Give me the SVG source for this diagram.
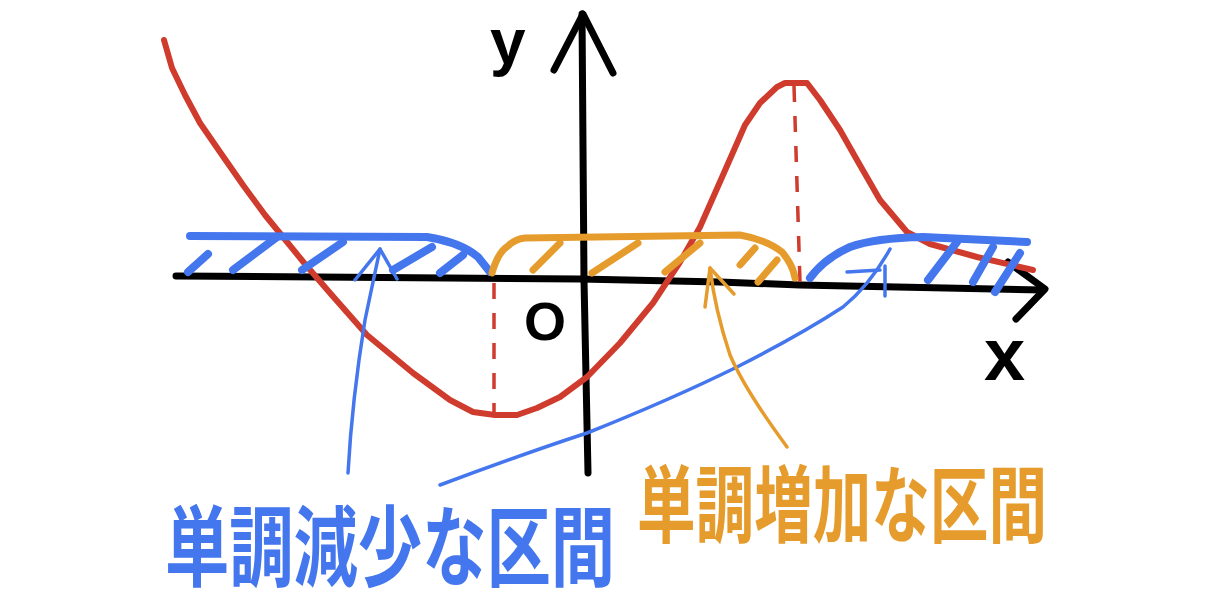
<svg xmlns="http://www.w3.org/2000/svg" width="1214" height="607" viewBox="0 0 1214 607">
<style>
  .ax{fill:none;stroke:#000;stroke-width:7;stroke-linecap:round;stroke-linejoin:round}
  .red{fill:none;stroke:#cf3b2c;stroke-width:6;stroke-linecap:round;stroke-linejoin:round}
  .dash{fill:none;stroke:#cf3b2c;stroke-width:3.5;stroke-dasharray:16 14}
  .bl{fill:none;stroke:#4476ee;stroke-width:8;stroke-linecap:round;stroke-linejoin:round}
  .blt{fill:none;stroke:#4476ee;stroke-width:3.5;stroke-linecap:round;stroke-linejoin:round}
  .or{fill:none;stroke:#e69c2c;stroke-width:7;stroke-linecap:round;stroke-linejoin:round}
  .ort{fill:none;stroke:#e69c2c;stroke-width:3.5;stroke-linecap:round;stroke-linejoin:round}
  .lab{font-family:"Liberation Sans",sans-serif;font-weight:bold;fill:#000}
  .jp{font-family:"Noto Sans CJK JP",sans-serif;font-weight:bold}
</style>
<rect width="1214" height="607" fill="#fff"/>

<g id="axes">
  <path class="ax" d="M176,276 L580,279 L720,282 L800,285 L1043,290"/>
  <path class="ax" d="M1008,262 L1045,289 L1016,319"/>
  <path class="ax" d="M588,473 L584,280 L582,14"/>
  <path class="ax" d="M554,70 L583,14 L613,73"/>
</g>

<g id="curve">
  <path class="red" d="M164,40 L172,68 L185,95 L200,123 L220,152 L243,185 L265,215 L283,237 L305,264 L330,293 L367,335 L413,373 L450,400 L473,412 L495,415 L517,415 L537,408 L560,397 L587,377 L620,343 L653,303 L680,262 L700,227 L723,175 L745,125 L760,103 L777,87 L785,83 L807,83 L820,100 L840,130 L857,160 L880,200 L907,232 L930,244 L977,257 L1033,270"/>
  <path class="dash" d="M494,283 L494,414"/>
  <path class="dash" d="M794,86 L800,282"/>
</g>

<g id="decreasing-left">
  <path class="bl" d="M190,236 L427,237 Q460,242 478,257 L490,272"/>
  <path class="bl" d="M188,272 L208,254 M233,270 L277,237 M302,270 L343,242 M393,270 L432,247 M440,273 L463,255"/>
</g>

<g id="increasing">
  <path class="or" d="M492,273 Q498,252 508,246 Q515,239 525,238 L740,235 Q767,240 782,252 Q793,265 795,278"/>
  <path class="or" d="M533,270 L560,243 M592,273 L638,243 M665,272 L700,243 M740,265 L755,248 M758,282 L777,260"/>
</g>

<g id="decreasing-right">
  <path class="bl" d="M810,278 Q825,258 850,247 Q875,238 923,237 L1027,242"/>
  <path class="bl" d="M928,280 L957,242 M973,282 L993,247 M995,292 L1020,253"/>
</g>

<g id="connectors">
  <path class="blt" d="M348,473 Q352,400 365,320 L380,249"/>
  <path class="blt" d="M355,280 L380,249 L397,279"/>
  <path class="blt" d="M440,485 Q520,455 587,433 Q670,400 737,367 Q800,335 843,307 Q870,285 890,249"/>
  <path class="blt" d="M847,272 L880,270 M885,266 L885,296"/>
  <path class="ort" d="M787,447 Q745,390 730,355 Q715,310 710,268"/>
  <path class="ort" d="M705,307 L710,268 L734,294"/>
</g>

<g id="label-y"><text class="lab" x="490" y="64" font-size="64">y</text></g>
<g id="label-x"><text class="lab" x="984" y="380" font-size="74">x</text></g>
<g id="label-o"><text class="lab" x="524" y="340" font-size="54">O</text></g>

<g id="text-decreasing">
  <text class="jp" fill="#4476ee" font-size="66" textLength="450" lengthAdjust="spacingAndGlyphs" transform="translate(165,579) scale(1,1.33)" x="0" y="0">単調減少な区間</text>
</g>
<g id="text-increasing">
  <text class="jp" fill="#e69c2c" font-size="60" textLength="410" lengthAdjust="spacingAndGlyphs" transform="translate(637,536) scale(1,1.4)" x="0" y="0">単調増加な区間</text>
</g>
</svg>
